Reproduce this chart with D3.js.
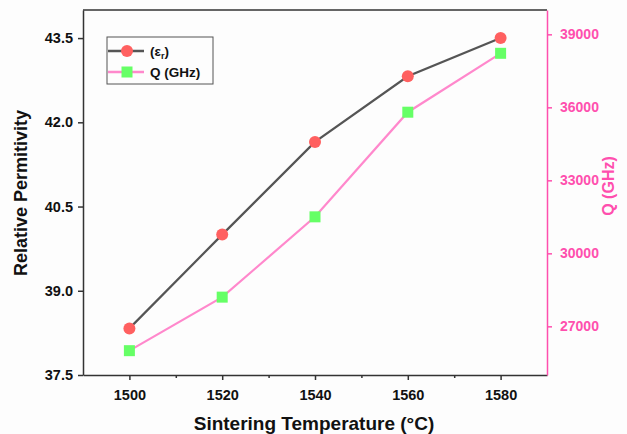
<!DOCTYPE html>
<html><head><meta charset="utf-8">
<script src="https://cdn.jsdelivr.net/npm/d3@7"></script>
<style>body{margin:0;background:#fdfdfd;}svg{display:block;}text{font-family:Arial,"Liberation Sans",sans-serif;font-weight:bold;}</style>
</head><body><svg id="c" width="627" height="434"></svg>
<script>
const temps = [1500, 1520, 1540, 1560, 1580];
const permittivity = [38.33, 40.0, 41.65, 42.82, 43.5];
const qValues = [26000, 28200, 31500, 35800, 38220];
const xTicks = [1500, 1520, 1540, 1560, 1580];
const yLeftTicks = [37.5, 39.0, 40.5, 42.0, 43.5];
const yRightTicks = [27000, 30000, 33000, 36000, 39000];

const svg = d3.select("#c");
const L = 83, R = 547, T = 10, B = 375;
const x = d3.scaleLinear().domain([1490, 1590]).range([L, R]);
const yL = d3.scaleLinear().domain([37.5, 44.0]).range([B, T]);
const yR = d3.scaleLinear().domain([25000, 40000]).range([B, T]);
const pink = "#ff4fae", dark = "#333";

svg.append("line").attr("x1", L).attr("x2", R).attr("y1", T).attr("y2", T).attr("stroke", dark).attr("stroke-width", 1.5);

const gx = svg.append("g").attr("transform", `translate(0,${B})`)
  .call(d3.axisBottom(x).tickValues(xTicks).tickSize(5).tickSizeOuter(0).tickFormat(d3.format("d")));
gx.selectAll("text").attr("font-size", 14.5).attr("fill", "#111").attr("dy", "1.15em");
svg.append("g").attr("transform", `translate(0,${B})`)
  .call(d3.axisBottom(x).tickValues([1510,1530,1550,1570]).tickSize(3).tickSizeOuter(0).tickFormat(""))
  .select(".domain").remove();
svg.selectAll("g path.domain, g .tick line").attr("stroke", dark).attr("stroke-width", 1.5);

const gl = svg.append("g").attr("transform", `translate(${L},0)`)
  .call(d3.axisLeft(yL).tickValues(yLeftTicks).tickSize(5).tickSizeOuter(0).tickFormat(d3.format(".1f")));
gl.selectAll("text").attr("font-size", 14.5).attr("fill", "#111").attr("x", -10);
gl.selectAll("path,line").attr("stroke", dark).attr("stroke-width", 1.5);

const gr = svg.append("g").attr("transform", `translate(${R},0)`)
  .call(d3.axisRight(yR).tickValues(yRightTicks).tickSize(5).tickSizeOuter(0).tickFormat(d3.format("d")));
gr.selectAll("text").attr("font-size", 14).attr("fill", pink).attr("x", 13);
gr.selectAll("path,line").attr("stroke", pink).attr("stroke-width", 1.5);

svg.append("text").attr("transform", "translate(27,193) rotate(-90)").attr("text-anchor", "middle")
  .attr("font-size", 18).attr("fill", "#111").text("Relative Permitivity");
svg.append("text").attr("transform", "translate(614,186) rotate(-90)").attr("text-anchor", "middle")
  .attr("font-size", 16).attr("fill", pink).text("Q (GHz)");
svg.append("text").attr("x", 314).attr("y", 430).attr("text-anchor", "middle")
  .attr("font-size", 19).attr("fill", "#111").text("Sintering Temperature (°C)");

const lineE = d3.line().x((d, i) => x(temps[i])).y(d => yL(d));
const lineQ = d3.line().x((d, i) => x(temps[i])).y(d => yR(d));
svg.append("path").datum(qValues).attr("d", lineQ).attr("fill", "none").attr("stroke", "#ff88cc").attr("stroke-width", 2.2);
svg.append("path").datum(permittivity).attr("d", lineE).attr("fill", "none").attr("stroke", "#555").attr("stroke-width", 2.2);

svg.selectAll(".sq").data(qValues).enter().append("rect")
  .attr("x", (d, i) => x(temps[i]) - 5.5).attr("y", d => yR(d) - 5.5).attr("width", 11).attr("height", 11).attr("fill", "#66ff66");
svg.selectAll(".ci").data(permittivity).enter().append("circle")
  .attr("cx", (d, i) => x(temps[i])).attr("cy", d => yL(d)).attr("r", 6).attr("fill", "#ff6060");

const lg = svg.append("g");
lg.append("rect").attr("x", 107).attr("y", 37).attr("width", 106).attr("height", 47).attr("fill", "#fdfdfd").attr("stroke", "#555").attr("stroke-width", 1);
lg.append("line").attr("x1", 108).attr("x2", 144).attr("y1", 51).attr("y2", 51).attr("stroke", "#555").attr("stroke-width", 2.5);
lg.append("circle").attr("cx", 127).attr("cy", 51).attr("r", 6).attr("fill", "#ff6060");
lg.append("line").attr("x1", 108).attr("x2", 144).attr("y1", 72).attr("y2", 72).attr("stroke", "#ff88cc").attr("stroke-width", 2.5);
lg.append("rect").attr("x", 121.5).attr("y", 66.5).attr("width", 11).attr("height", 11).attr("fill", "#66ff66");
const t1 = lg.append("text").attr("x", 150).attr("y", 56).attr("font-size", 13.5).attr("fill", "#111");
t1.append("tspan").text("(ε");
t1.append("tspan").attr("font-size", 9).attr("dy", 3).text("r");
t1.append("tspan").attr("dy", -3).text(")");
lg.append("text").attr("x", 150).attr("y", 77).attr("font-size", 13.5).attr("fill", "#111").text("Q (GHz)");
</script></body></html>
